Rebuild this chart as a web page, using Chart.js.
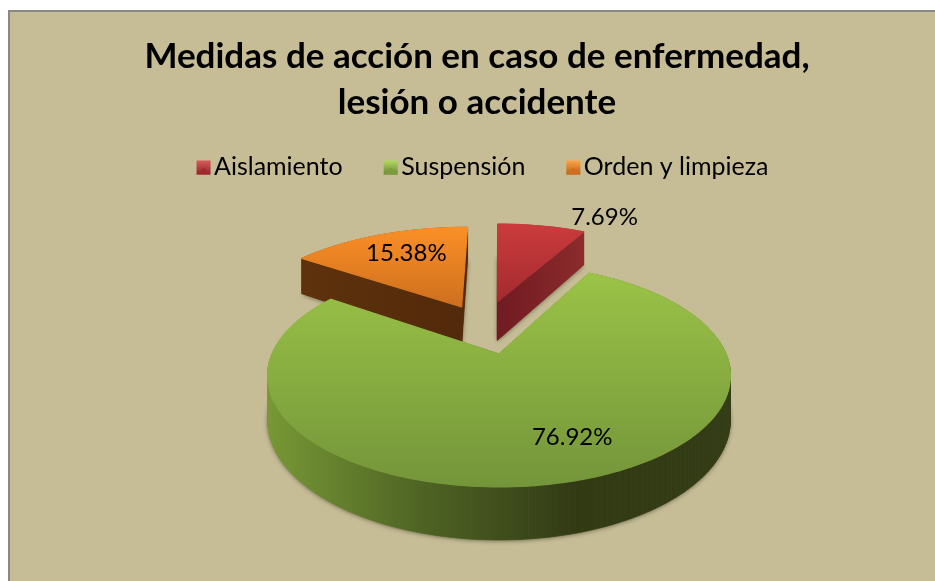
<!DOCTYPE html>
<html><head><meta charset="utf-8">
<style>html,body{margin:0;padding:0;background:#fff}#w{width:935px;height:581px}canvas{display:block}</style>
<script src="https://cdn.jsdelivr.net/npm/chart.js@4"></script>
</head><body><div id="w"><canvas id="c" width="935" height="581"></canvas></div>
<script>
const categories = ['Aislamiento', 'Suspensión', 'Orden y limpieza'];
const percentages = [7.69, 76.92, 15.38];
const titleLines = ['Medidas de acción en caso de enfermedad,', 'lesión o accidente'];

const FONT = 'Lato, Carlito, sans-serif';
const P = {cx: 499, cy: 354, A: 227, B: 107, k: 0.195, D: 42.7};
const explode = [[-0.008, 0.54], [0, 0], [-0.18, 0.48]];
const sliceScale = [1.05, 1, 1.06];
const labelAt = [[0.62, 1.706], [0.28, -0.674], [-0.50, 1.157]];
const topCols = [['#cb3b3c', '#a32b2e'], ['#9ac347', '#74953a'], ['#fb8f26', '#cd6f1e']];
const wallCols = [['#701b22', '#8b2b2c'], ['#779835', '#4e6324', '#323a14', '#333c16'], ['#5e320c', '#52290b']];
const legendCols = [['#d85a5a', '#8e2529'], ['#b4da5e', '#68863a'], ['#fda544', '#b85f1a']];
const legendEdge = ['#9c2a2e', '#7b9a3c', '#cf6f1e'];

function proj(u, v, z) {
  const w = 1 + P.k * v;
  return [P.cx + P.A * u / w, P.cy - P.B * v / w + (z ? P.D / w : 0)];
}
function outline(arc, off, s) {
  const pts = [[off[0], off[1]]];
  const n = Math.max(6, Math.round((arc.endAngle - arc.startAngle) * 40));
  for (let i = 0; i <= n; i++) {
    const a = arc.startAngle + (arc.endAngle - arc.startAngle) * i / n;
    pts.push([off[0] + s * Math.cos(a), off[1] - s * Math.sin(a)]);
  }
  return pts;
}
function poly(ctx, list) {
  ctx.beginPath();
  list.forEach((p, i) => i ? ctx.lineTo(p[0], p[1]) : ctx.moveTo(p[0], p[1]));
  ctx.closePath();
}
function grad(ctx, x0, y0, x1, y1, cols) {
  const g = ctx.createLinearGradient(x0, y0, x1, y1);
  cols.forEach((c, i) => g.addColorStop(i / (cols.length - 1), c));
  return g;
}

const pie3d = {
  id: 'pie3d',
  afterLayout(chart) {
    const lg = chart.legend, dx = 6, dy = -15;
    lg.left += dx; lg.right += dx; lg.top += dy; lg.bottom += dy;
    lg.legendHitBoxes.forEach(h => { h.left += dx; });
  },
  beforeDraw(chart) {
    const ctx = chart.ctx;
    ctx.save();
    ctx.fillStyle = '#fff';
    ctx.fillRect(0, 0, chart.width, chart.height);
    ctx.fillStyle = '#888888';
    ctx.fillRect(8, 10, chart.width - 8, chart.height - 10);
    ctx.fillStyle = '#c6bd97';
    ctx.fillRect(10, 12, chart.width - 10, chart.height - 12);
    ctx.restore();
  },
  beforeDatasetsDraw(chart) {
    const ctx = chart.ctx, arcs = chart.getDatasetMeta(0).data;
    [0, 2, 1].forEach(i => {
      const pts = outline(arcs[i], explode[i], sliceScale[i]);
      const top = pts.map(p => proj(p[0], p[1], false));
      const bot = pts.map(p => proj(p[0], p[1], true));
      const xs = top.map(p => p[0]), ys = top.map(p => p[1]);
      const x0 = Math.min(...xs), x1 = Math.max(...xs), y0 = Math.min(...ys), y1 = Math.max(...ys);
      ctx.save();
      ctx.shadowColor = 'rgba(40,35,20,0.55)';
      ctx.shadowBlur = 4;
      ctx.shadowOffsetY = 1;
      ctx.fillStyle = wallCols[i][0];
      poly(ctx, bot); ctx.fill();
      ctx.restore();
      const wall = grad(ctx, x0, 0, x1, 0, wallCols[i]);
      const quads = [];
      for (let q = 0; q < pts.length; q++) {
        const r = (q + 1) % pts.length;
        quads.push({d: pts[q][1] + pts[r][1], list: [top[q], top[r], bot[r], bot[q]]});
      }
      quads.sort((a, b) => b.d - a.d);
      ctx.save();
      ctx.fillStyle = wall; ctx.strokeStyle = wall; ctx.lineWidth = 0.7;
      quads.forEach(o => { poly(ctx, o.list); ctx.fill(); ctx.stroke(); });
      ctx.restore();
      ctx.save();
      const face = grad(ctx, 0, y0, 0, y1, topCols[i]);
      ctx.fillStyle = face; ctx.strokeStyle = face; ctx.lineWidth = 1.2; ctx.lineJoin = 'round';
      poly(ctx, top); ctx.fill(); ctx.stroke();
      ctx.restore();
    });
    return false;
  },
  afterDraw(chart) {
    const ctx = chart.ctx;
    ctx.save();
    ctx.fillStyle = '#000';
    ctx.font = '24px ' + FONT;
    ctx.textAlign = 'center';
    ctx.textBaseline = 'middle';
    percentages.forEach((val, i) => {
      const p = proj(labelAt[i][0], labelAt[i][1], false);
      ctx.fillText(val.toFixed(2) + '%', p[0], p[1]);
    });
    chart.legend.legendHitBoxes.forEach((h, i) => {
      const x = h.left - 1, s = 14, y = h.top + (h.height - s) / 2 + 1;
      ctx.fillStyle = grad(ctx, 0, y, 0, y + s, legendCols[i]);
      ctx.fillRect(x, y, s, s);
      ctx.fillStyle = legendEdge[i];
      poly(ctx, [[x, y + s], [x + s / 2, y + s / 2], [x + s, y + s]]); ctx.fill();
    });
    ctx.restore();
  }
};

new Chart(document.getElementById('c'), {
  type: 'pie',
  data: {labels: categories, datasets: [{data: percentages, backgroundColor: topCols.map(c => c[0]), borderWidth: 0}]},
  options: {
    responsive: false,
    animation: false,
    layout: {padding: {left: 19, top: 30, bottom: 10}},
    plugins: {
      tooltip: {enabled: false},
      title: {display: true, text: titleLines, color: '#000', padding: {top: 4, bottom: 2},
        font: {family: FONT, size: 35, weight: 'bold', lineHeight: 1.3}},
      legend: {display: true, position: 'top',
        labels: {color: '#000', font: {family: FONT, size: 25}, boxWidth: 4, boxHeight: 4, padding: 42,
          generateLabels: () => categories.map((t, i) => ({
            text: t, index: i, fontColor: '#000', lineWidth: 0, strokeStyle: 'transparent',
            fillStyle: 'transparent', hidden: false
          }))}}
    }
  },
  plugins: [pie3d]
});
</script></body></html>
